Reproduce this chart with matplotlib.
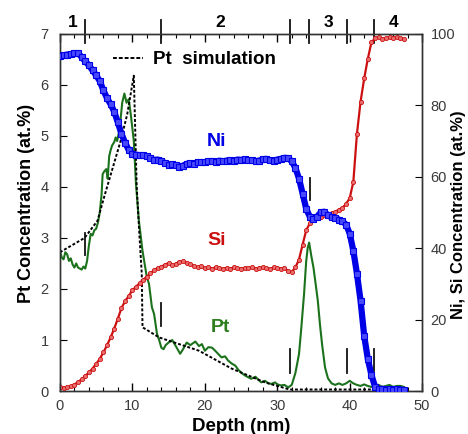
import matplotlib
matplotlib.use("Agg")
import matplotlib.pyplot as plt
from matplotlib.lines import Line2D
import matplotlib.transforms as mtransforms

plt.rcParams['font.family'] = ['Liberation Sans', 'DejaVu Sans']

# ---------------- data ----------------
ni_depth = [0, 0.5, 1, 1.5, 2, 2.5, 3, 3.5, 4, 4.5, 5, 5.5, 6, 6.5, 7, 7.5, 8, 8.5, 9, 9.5,
            10, 10.5, 11, 11.5, 12, 12.5, 13, 13.5, 14, 14.5, 15, 15.5, 16, 16.5, 17, 17.5,
            18, 18.5, 19, 19.5, 20, 20.5, 21, 21.5, 22, 22.5, 23, 23.5, 24, 24.5, 25, 25.5,
            26, 26.5, 27, 27.5, 28, 28.5, 29, 29.5, 30, 30.5, 31, 31.5, 32, 32.5, 33, 33.5,
            34, 34.5, 35, 35.5, 36, 36.5, 37, 37.5, 38, 38.5, 39, 39.5, 40, 40.5, 41, 41.5,
            42, 42.5, 43, 43.5, 44, 44.5, 45, 45.5, 46, 46.5, 47, 47.5]
ni_conc = [93.8, 94.0, 94.2, 94.3, 94.5, 94.6, 93.5, 92.3, 91.2, 89.8, 88.4, 86.8, 84.2, 82.0,
           80.3, 78.2, 75.2, 72.0, 69.5, 67.5, 66.5, 66.2, 66.0, 66.0, 65.7, 65.2, 64.7, 64.8,
           64.5, 63.8, 63.4, 63.5, 63.2, 62.8, 63.1, 63.6, 63.8, 63.7, 64.1, 64.0, 64.0, 64.3,
           64.4, 64.2, 64.5, 64.3, 64.5, 64.6, 64.4, 64.8, 64.7, 64.9, 64.6, 64.6, 64.3, 64.5,
           64.9, 65.0, 64.6, 64.5, 64.8, 65.0, 65.3, 65.2, 64.3, 62.5, 59.5, 55.3, 51.0, 48.8,
           48.3, 48.8, 50.0, 50.2, 49.2, 48.6, 48.5, 48.0, 47.5, 46.6, 44.1, 39.3, 32.9, 25.3,
           15.5, 9.0, 4.5, 1.2, 0.5, 0.6, 0.4, 0.5, 0.4, 0.5, 0.4, 0.3]

si_depth = ni_depth
si_conc = [1.0, 0.9, 1.1, 1.3, 1.8, 2.5, 3.3, 4.2, 5.2, 6.3, 7.6, 9.0, 10.8, 12.8, 15.0, 17.5,
           20.3, 23.2, 25.2, 26.6, 28.2, 29.2, 30.2, 31.2, 32.0, 33.0, 33.8, 34.5, 34.8, 35.4,
           35.8, 35.2, 35.6, 36.2, 36.4, 35.8, 35.5, 35.0, 34.7, 34.9, 34.4, 34.6, 34.3, 34.6,
           34.4, 34.2, 34.5, 34.3, 34.6, 34.4, 34.2, 34.5, 34.4, 34.6, 34.3, 34.5, 34.6, 34.4,
           34.2, 34.6, 34.5, 34.3, 34.5, 33.6, 33.3, 34.6, 36.8, 41.0, 45.0, 47.0, 48.0, 48.6,
           48.8, 49.2, 49.6, 49.8, 50.2, 50.8, 51.3, 52.4, 54.0, 58.5, 72.0, 81.0, 87.5, 93.0,
           97.6, 98.8, 99.0, 98.6, 98.8, 99.0, 98.7, 99.1, 98.8, 98.6]

pt_depth = [0, 0.25, 0.5, 0.75, 1.0, 1.25, 1.5, 1.75, 2.0, 2.25, 2.5, 2.75, 3.0, 3.25, 3.5,
            3.75, 4.0, 4.25, 4.5, 4.75, 5.0, 5.25, 5.5, 5.75, 5.9, 6.1, 6.4, 6.6, 6.8, 7.0,
            7.2, 7.5, 7.7, 7.9, 8.2, 8.4, 8.6, 8.9, 9.2, 9.5, 9.8, 10.0, 10.2, 10.5, 10.9, 11.4,
            12.0, 12.3, 12.7, 13.0, 13.4, 13.7, 14.0, 14.3, 14.6, 15.0, 15.5, 16.0, 16.6,
            17.0, 17.5, 18.0, 18.7, 19.2, 19.6, 20.0, 20.5, 21.0, 21.5, 22.3, 22.8, 23.2, 23.7,
            24.2, 24.6, 25.1, 25.6, 26.0, 26.4, 27.0, 27.4, 27.8, 28.3, 28.8, 29.2, 29.7,
            30.0, 30.5, 31.0, 31.5, 32.0, 32.5, 33.0, 33.3, 33.7, 34.0, 34.2, 34.4, 34.7, 35.0,
            35.3, 35.6, 35.9, 36.2, 36.6, 37.0, 37.5, 38.0, 38.5, 39.0, 39.5, 40.0, 40.5, 41.0,
            41.5, 42.0, 42.5, 43.0, 43.5, 44.0, 44.5, 45.0, 45.5, 46.0, 46.5, 47.0, 47.5]
pt_conc = [2.75, 2.62, 2.58, 2.72, 2.68, 2.55, 2.6, 2.48, 2.42, 2.5, 2.42, 2.4, 2.38, 2.44, 2.4,
           2.55, 2.85, 3.08, 3.05, 3.15, 3.18, 3.3, 3.5, 3.85, 4.25, 4.3, 4.35, 4.16, 4.6, 4.72,
           4.81, 4.88, 4.97, 4.9, 5.1, 5.36, 5.65, 5.83, 5.65, 5.72, 5.4, 5.15, 4.9, 4.06, 3.34,
           2.75, 2.23, 2.1, 1.64, 1.51, 1.12, 1.0, 0.85, 0.82, 0.9, 0.95, 1.0, 0.88, 0.73,
           0.82, 0.95, 0.9, 0.97, 0.88, 0.92, 0.79, 0.86, 0.85, 0.78, 0.66, 0.68, 0.6, 0.54,
           0.5, 0.42, 0.35, 0.3, 0.27, 0.24, 0.28, 0.22, 0.17, 0.2, 0.15, 0.14, 0.17,
           0.13, 0.11, 0.12, 0.07, 0.12, 0.35, 0.72, 1.2, 1.9, 2.55, 2.8, 2.91, 2.65, 2.42,
           2.1, 1.77, 1.3, 0.9, 0.46, 0.25, 0.15, 0.12, 0.15, 0.12, 0.15, 0.2, 0.15, 0.12,
           0.1, 0.13, 0.1, 0.08, 0.12, 0.12, 0.08, 0.1, 0.12, 0.08, 0.1, 0.1, 0.08]

sim_depth = [0, 3.4, 5.2, 6.1, 7.2, 8.4, 9.3, 10.2, 10.6, 11.0, 11.3, 11.4, 13.7, 19.2, 23.7,
             28.3, 31.7, 48]
sim_conc = [2.72, 3.0, 3.34, 3.8, 4.33, 4.91, 5.43, 6.18, 4.0, 3.0, 2.3, 1.25, 1.05, 0.79, 0.44,
            0.17, 0.03, 0.03]

# region boundaries (nm) and labels
region_bounds = [3.4, 13.9, 31.7, 34.4, 39.6, 43.3]
region_labels = ['1', '2', '3', '4']
region_label_x = [1.8, 22.2, 37.1, 46.1]

# short vertical interface markers (x, ymin, ymax) in Pt units
marker_x = [3.4, 13.9, 31.7, 34.5, 39.6, 43.3]
marker_ymin = [2.66, 1.28, 0.36, 3.74, 0.36, 0.40]
marker_ymax = [3.10, 1.73, 0.83, 4.17, 0.83, 0.83]

# ---------------- plot ----------------
fig = plt.figure(figsize=(4.68, 4.34), dpi=100)
ax = fig.add_axes([0.128, 0.099, 0.774, 0.823])
ax2 = ax.twinx()

green = '#1c721c'
blue = '#0000e6'
red = '#cc1010'

ax.plot(pt_depth, pt_conc, color=green, lw=1.5, zorder=3)
ax.plot(sim_depth, sim_conc, color='black', lw=1.4, ls=(0, (1.5, 1)), zorder=4)

ax2.plot(ni_depth, ni_conc, color=blue, lw=4.5, marker='s', ms=4.5, mfc='#4848ff',
         mec=blue, mew=0.8, zorder=3, solid_capstyle='butt')
ax2.plot(si_depth, si_conc, color=red, lw=1.6, marker='o', ms=3, mfc='#e87070',
         mec=red, mew=0.6, zorder=2)

for x, y0, y1 in zip(marker_x, marker_ymin, marker_ymax):
    ax.plot([x, x], [y0, y1], color='#111111', lw=1.3, zorder=5)

ax.set_xlim(0, 50)
ax.set_ylim(0, 7)
ax2.set_ylim(0, 100)

tick_color = '#3a3a3a'
ax.set_xticks(range(0, 51, 10))
ax.set_xticks(range(0, 51, 2), minor=True)
ax.set_yticks(range(0, 8))
ax2.set_yticks(range(0, 101, 20))
ax.tick_params(axis='x', which='both', direction='in', top=True, bottom=True,
               labelsize=10.5, labelcolor=tick_color, pad=6)
ax.tick_params(axis='x', which='major', length=6, width=1)
ax.tick_params(axis='x', which='minor', length=3, width=0.8)
ax.tick_params(axis='y', which='major', direction='in', length=5, labelsize=10.5,
               labelcolor=tick_color, pad=8)
ax2.tick_params(axis='y', which='major', direction='in', length=5, labelsize=10.5,
                labelcolor=tick_color, pad=6)

for a in (ax, ax2):
    for s in a.spines.values():
        s.set_color('#333333')
        s.set_linewidth(1.0)

ax.set_xlabel('Depth (nm)', fontsize=13.5, fontweight='bold', labelpad=3)
ax.set_ylabel('Pt Concentration (at.%)', fontsize=13, fontweight='bold')
ax.yaxis.set_label_coords(-0.07, 0.524)
ax2.set_ylabel('Ni, Si Concentration (at.%)', fontsize=12, fontweight='bold')
ax2.yaxis.set_label_coords(1.08, 0.493)

# region boundaries above the top axis
trans = mtransforms.blended_transform_factory(ax.transData, ax.transAxes)
for x in region_bounds:
    ax.plot([x, x], [0.975, 1.04], color='#111111', lw=1.3, transform=trans, clip_on=False)
for x, lab in zip(region_label_x, region_labels):
    ax.text(x, 1.012, lab, transform=trans, ha='center', va='bottom', fontsize=12.5,
            fontweight='bold')

ax.text(21.6, 4.9, 'Ni', color=blue, fontsize=14, fontweight='bold', ha='center', va='center')
ax.text(21.6, 2.95, 'Si', color=red, fontsize=14, fontweight='bold', ha='center', va='center')
ax.text(22.1, 1.25, 'Pt', color='#2e7d1e', fontsize=14, fontweight='bold', ha='center',
        va='center')

handle = Line2D([], [], color='black', lw=1.4, ls=(0, (2, 1)))
leg = ax.legend([handle], ['Pt  simulation'], loc='upper left', bbox_to_anchor=(0.146, 0.952),
                frameon=False, handlelength=1.6, handletextpad=0.55, borderpad=0,
                borderaxespad=0, prop={'weight': 'bold', 'size': 13.5})

fig.savefig('out.png', dpi=100)
